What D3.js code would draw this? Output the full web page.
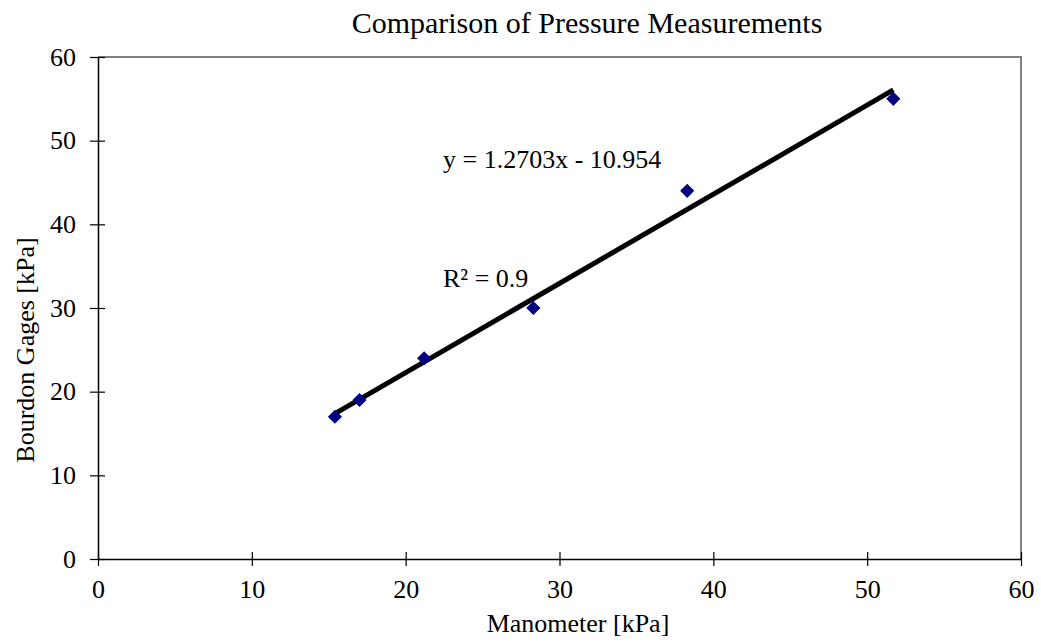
<!DOCTYPE html>
<html>
<head>
<meta charset="utf-8">
<script src="https://cdn.jsdelivr.net/npm/d3@7"></script>
<style>
  body { margin: 0; background: #fff; }
  svg { font-family: "Liberation Serif", "Times New Roman", serif; }
</style>
</head>
<body>
<svg id="chart"></svg>
<script>
const manometer = [15.4, 17, 21.2, 28.3, 38.3, 51.7]
const bourdon = [17, 19, 24, 30, 44, 55]
const xTicks = [0, 10, 20, 30, 40, 50, 60]
const yTicks = [0, 10, 20, 30, 40, 50, 60]
const equationText = 'y = 1.2703x - 10.954'
const rSquaredText = 'R² = 0.9'

const width = 1041
const height = 644
const margin = { top: 57, right: 20, bottom: 85, left: 98 }

const svg = d3.select('#chart')
    .attr('width', width)
    .attr('height', height)

const x = d3.scaleLinear().domain([0, 60]).range([margin.left, width - margin.right])
const y = d3.scaleLinear().domain([0, 60]).range([height - margin.bottom, margin.top])

// plot frame: grey top/right edges
svg.append('path')
    .attr('d', `M${x(0)},${y(60)}H${x(60)}V${y(0)}`)
    .attr('fill', 'none')
    .attr('stroke', '#808080')
    .attr('stroke-width', 2)

function crossTicks(g, dir) {
    g.selectAll('.tick line').clone()
        .attr(dir === 'x' ? 'y2' : 'x2', dir === 'x' ? -7 : 7)
}

const xAxis = svg.append('g')
    .attr('transform', `translate(0,${y(0)})`)
    .call(d3.axisBottom(x).tickValues(xTicks).tickSize(7).tickPadding(14).tickSizeOuter(0))
xAxis.call(crossTicks, 'x')

const yAxis = svg.append('g')
    .attr('transform', `translate(${x(0)},0)`)
    .call(d3.axisLeft(y).tickValues(yTicks).tickSize(8).tickPadding(14).tickSizeOuter(0))
yAxis.call(crossTicks, 'y')

svg.selectAll('.domain').attr('stroke', '#000').attr('stroke-width', 1.5)
svg.selectAll('.tick line').attr('stroke', '#000').attr('stroke-width', 1.2)
svg.selectAll('.tick text')
    .attr('font-size', 26)
    .attr('font-family', '"Liberation Serif", serif')
    .attr('fill', '#000')

// least squares trend line through the measured points
const mx = d3.mean(manometer)
const my = d3.mean(bourdon)
const slope = d3.sum(manometer, (v, i) => (v - mx) * (bourdon[i] - my)) /
    d3.sum(manometer, v => (v - mx) * (v - mx))
const intercept = my - slope * mx
const xExt = d3.extent(manometer)

svg.append('line')
    .attr('x1', x(xExt[0]))
    .attr('y1', y(slope * xExt[0] + intercept))
    .attr('x2', x(xExt[1]))
    .attr('y2', y(slope * xExt[1] + intercept))
    .attr('stroke', '#000')
    .attr('stroke-width', 5)

const diamond = d3.symbol(d3.symbolSquare, 100)
svg.selectAll('.pt')
    .data(manometer)
    .enter().append('path')
    .attr('class', 'pt')
    .attr('d', diamond)
    .attr('transform', (d, i) => `translate(${x(d)},${y(bourdon[i])}) rotate(45)`)
    .attr('fill', '#000080')

svg.append('text')
    .attr('x', 443)
    .attr('y', 168)
    .attr('font-size', 26)
    .text(equationText)

svg.append('text')
    .attr('x', 443)
    .attr('y', 287)
    .attr('font-size', 26)
    .text(rSquaredText)

svg.append('text')
    .attr('x', 587)
    .attr('y', 33)
    .attr('text-anchor', 'middle')
    .attr('font-size', 30)
    .text('Comparison of Pressure Measurements')

svg.append('text')
    .attr('x', 578)
    .attr('y', 632)
    .attr('text-anchor', 'middle')
    .attr('font-size', 26)
    .text('Manometer [kPa]')

svg.append('text')
    .attr('transform', `translate(34,350) rotate(-90)`)
    .attr('text-anchor', 'middle')
    .attr('font-size', 26)
    .text('Bourdon Gages [kPa]')
</script>
</body>
</html>
